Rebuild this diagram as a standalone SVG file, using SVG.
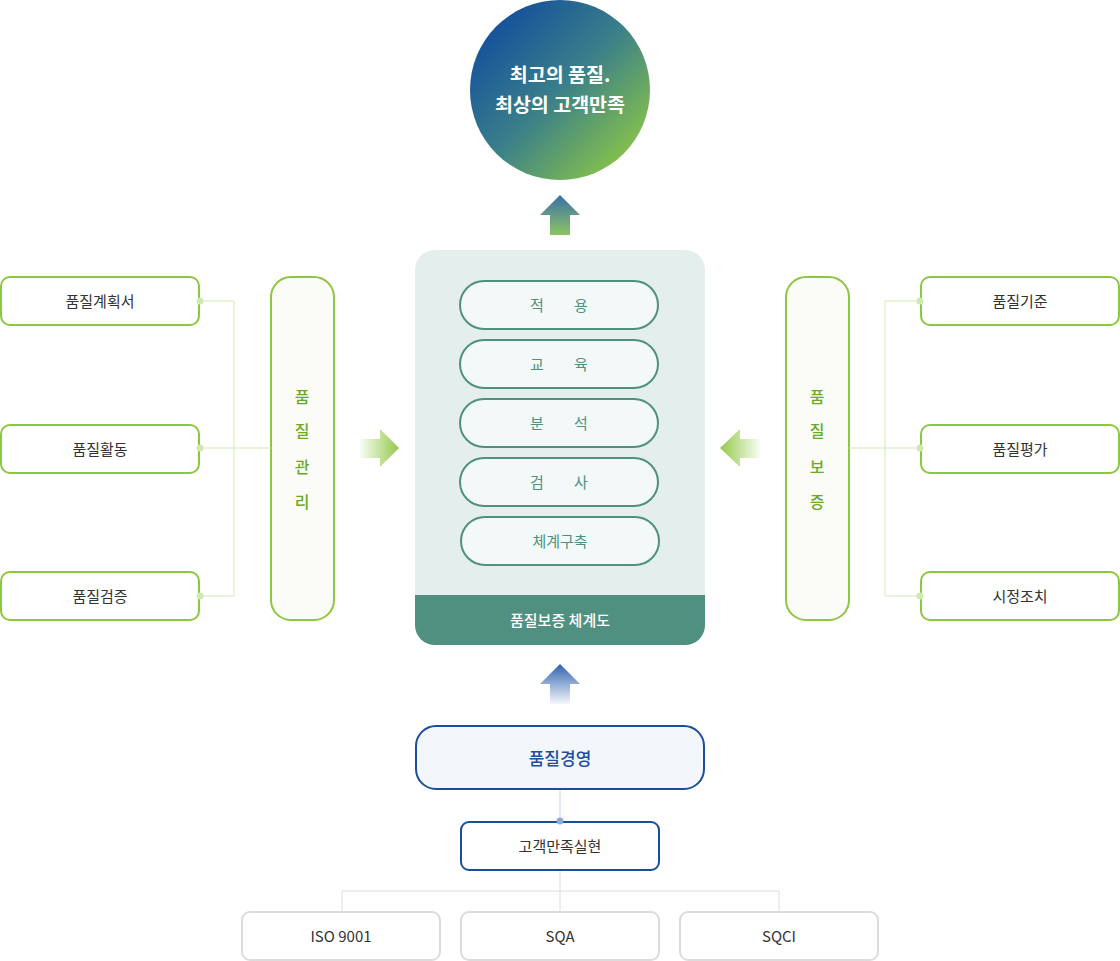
<svg xmlns="http://www.w3.org/2000/svg" width="1120" height="961" viewBox="0 0 1120 961">
<defs>
<linearGradient id="gCircle" x1="0" y1="0" x2="1" y2="1">
<stop offset="0.1" stop-color="#124d9d"/>
<stop offset="0.5" stop-color="#3b8089"/>
<stop offset="0.9" stop-color="#8bc646"/>
</linearGradient>
<linearGradient id="gUpTop" x1="0" y1="0" x2="0" y2="1">
<stop offset="0" stop-color="#3a70a8"/>
<stop offset="1" stop-color="#8cc464"/>
</linearGradient>
<linearGradient id="gUpBot" x1="0" y1="0" x2="0" y2="1">
<stop offset="0" stop-color="#2f62b0"/>
<stop offset="1" stop-color="#2f62b0" stop-opacity="0.05"/>
</linearGradient>
<linearGradient id="gRight" x1="0" y1="0" x2="1" y2="0">
<stop offset="0" stop-color="#8dc63f" stop-opacity="0.05"/>
<stop offset="1" stop-color="#8dc63f" stop-opacity="0.95"/>
</linearGradient>
<linearGradient id="gLeft" x1="1" y1="0" x2="0" y2="0">
<stop offset="0" stop-color="#8dc63f" stop-opacity="0.05"/>
<stop offset="1" stop-color="#8dc63f" stop-opacity="0.95"/>
</linearGradient>
<style>
text{font-family:"Noto Sans CJK KR","Noto Sans",sans-serif;text-anchor:middle;dominant-baseline:central}
.gbox{fill:#fff;stroke:#8dc63f;stroke-width:2}
.vbox{fill:#fbfcf7;stroke:#8dc63f;stroke-width:2}
.gtxt{font-size:15px;fill:#333}
.vtxt{font-size:16px;fill:#6aa92c;font-weight:500}
.pill{fill:#f3f8f8;stroke:#4f9080;stroke-width:2}
.ptxt{font-size:15px;fill:#4f9080}
.gline{fill:none;stroke:#d3ebb6;stroke-width:1}
.gdot{fill:#d0e9b0}
.bline{fill:none;stroke:#c5d4ea;stroke-width:1}
.greyline{fill:none;stroke:#dcdcdc;stroke-width:1}
.wbox{fill:#fff;stroke:#dcdcdc;stroke-width:2}
</style>
</defs>

<g id="goal">
<circle cx="560" cy="90" r="90" fill="url(#gCircle)"/>
<text x="560" y="73" font-size="19.5" font-weight="700" fill="#fff">최고의 품질.</text>
<text x="560" y="103" font-size="19.5" font-weight="700" fill="#fff">최상의 고객만족</text>
</g>

<g id="plan"><rect class="gbox" x="1" y="277" width="198" height="48" rx="9"/><text class="gtxt" x="100" y="300">품질계획서</text></g>
<g id="activity"><rect class="gbox" x="1" y="425" width="198" height="48" rx="9"/><text class="gtxt" x="100" y="448">품질활동</text></g>
<g id="verify"><rect class="gbox" x="1" y="572" width="198" height="48" rx="9"/><text class="gtxt" x="100" y="595">품질검증</text></g>

<g id="qc">
<rect class="vbox" x="271" y="277" width="63" height="343" rx="20"/>
<text class="vtxt" x="302" y="396">품</text>
<text class="vtxt" x="302" y="430">질</text>
<text class="vtxt" x="302" y="466">관</text>
<text class="vtxt" x="302" y="501">리</text>
</g>

<g id="qa">
<rect class="vbox" x="786" y="277" width="63" height="343" rx="20"/>
<text class="vtxt" x="817" y="396">품</text>
<text class="vtxt" x="817" y="430">질</text>
<text class="vtxt" x="817" y="466">보</text>
<text class="vtxt" x="817" y="501">증</text>
</g>

<g id="standard"><rect class="gbox" x="921" y="277" width="198" height="48" rx="9"/><text class="gtxt" x="1020" y="300">품질기준</text></g>
<g id="evaluation"><rect class="gbox" x="921" y="425" width="198" height="48" rx="9"/><text class="gtxt" x="1020" y="448">품질평가</text></g>
<g id="correction"><rect class="gbox" x="921" y="572" width="198" height="48" rx="9"/><text class="gtxt" x="1020" y="595">시정조치</text></g>

<g id="system">
<rect x="415" y="250" width="290" height="395" rx="20" fill="#e4eeec"/>
<path d="M415 595H705V625A20 20 0 0 1 685 645H435A20 20 0 0 1 415 625Z" fill="#4f9080"/>
<text x="560" y="619" font-size="15" font-weight="500" fill="#fff">품질보증 체계도</text>
</g>
<g id="apply"><rect class="pill" x="460" y="281" width="198" height="48" rx="24"/><text class="ptxt" x="537" y="304">적</text><text class="ptxt" x="581" y="304">용</text></g>
<g id="education"><rect class="pill" x="460" y="340" width="198" height="48" rx="24"/><text class="ptxt" x="537" y="363">교</text><text class="ptxt" x="581" y="363">육</text></g>
<g id="analysis"><rect class="pill" x="460" y="399" width="198" height="48" rx="24"/><text class="ptxt" x="537" y="422">분</text><text class="ptxt" x="581" y="422">석</text></g>
<g id="inspection"><rect class="pill" x="460" y="458" width="198" height="48" rx="24"/><text class="ptxt" x="537" y="481">검</text><text class="ptxt" x="581" y="481">사</text></g>
<g id="build"><rect class="pill" x="461" y="517" width="198" height="48" rx="24"/><text class="ptxt" x="560" y="540">체계구축</text></g>

<g id="management">
<rect x="416" y="726" width="288" height="63" rx="20" fill="#f3f7fb" stroke="#1a4d9a" stroke-width="2"/>
<text x="560" y="757" font-size="17" font-weight="500" fill="#1d4f9c">품질경영</text>
</g>
<g id="satisfaction">
<rect x="461" y="822" width="198" height="48" rx="8" fill="#fff" stroke="#1a4d9a" stroke-width="2"/>
<text class="gtxt" x="560" y="845">고객만족실현</text>
</g>
<g id="iso"><rect class="wbox" x="242" y="912" width="198" height="48" rx="8"/><text class="gtxt" x="341" y="935">ISO 9001</text></g>
<g id="sqa"><rect class="wbox" x="461" y="912" width="198" height="48" rx="8"/><text class="gtxt" x="560" y="935">SQA</text></g>
<g id="sqci"><rect class="wbox" x="680" y="912" width="198" height="48" rx="8"/><text class="gtxt" x="779" y="935">SQCI</text></g>

<g id="connectors">
<path class="gline" d="M200 301H234V596H200M200 448H271"/>
<circle class="gdot" cx="200" cy="301" r="3.5"/>
<circle class="gdot" cx="200" cy="448" r="3.5"/>
<circle class="gdot" cx="200" cy="596" r="3.5"/>
<path class="gline" d="M920 301H885V596H920M920 448H849"/>
<circle class="gdot" cx="920" cy="301" r="3.5"/>
<circle class="gdot" cx="920" cy="448" r="3.5"/>
<circle class="gdot" cx="920" cy="596" r="3.5"/>
<path class="bline" d="M560 790V821"/>
<circle cx="560" cy="821" r="3.5" fill="#8eaad8"/>
<path class="greyline" d="M560 871V911M342 911V891H779V911"/>
<polygon points="560,195 580,215 570,215 570,235 550,235 550,215 540,215" fill="url(#gUpTop)"/>
<polygon points="560,664 580,684 570,684 570,704 550,704 550,684 540,684" fill="url(#gUpBot)"/>
<polygon points="360,439 380,439 380,429 399,448 380,467 380,458 360,458" fill="url(#gRight)"/>
<polygon points="760,439 740,439 740,429 720,448 740,467 740,458 760,458" fill="url(#gLeft)"/>
</g>
</svg>
